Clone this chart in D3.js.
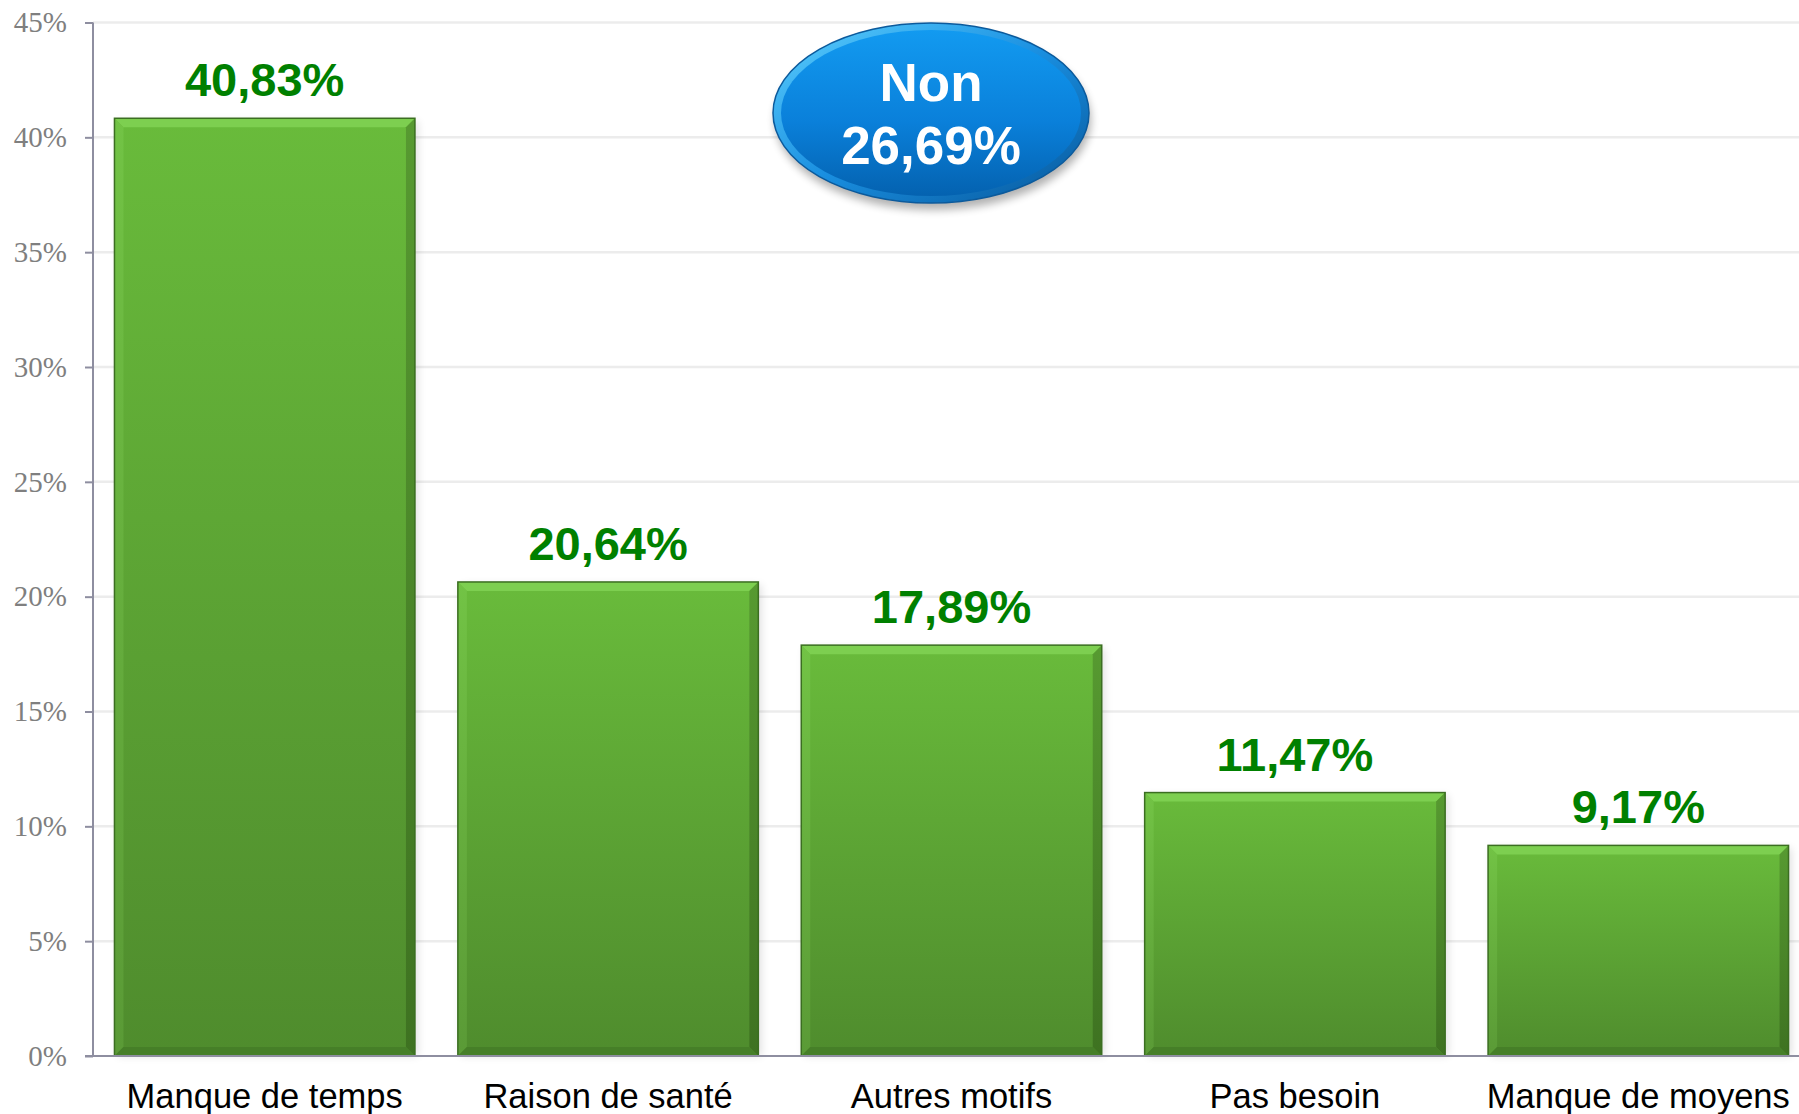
<!DOCTYPE html>
<html>
<head>
<meta charset="utf-8">
<script src="https://cdn.jsdelivr.net/npm/d3@7"></script>
<style>
  html, body { margin: 0; padding: 0; background: #fff; }
  svg { display: block; }
  .y-axis text { font-family: "Liberation Serif", "DejaVu Serif", serif; font-size: 29px; fill: #7f7f7f; }
  .y-axis line, .y-axis path { stroke: #8e8ea0; stroke-width: 2; }
  .cat-label { font-family: "Liberation Sans", Arial, sans-serif; font-size: 34.5px; fill: #000; }
  .val-label { font-family: "Liberation Sans", Arial, sans-serif; font-size: 47px; font-weight: bold; fill: #008000; }
  .badge-text { font-family: "Liberation Sans", Arial, sans-serif; font-size: 53px; font-weight: bold; fill: #fff; }
</style>
</head>
<body>
<svg id="chart" width="1799" height="1114"></svg>
<script>
const categories = ["Manque de temps", "Raison de santé", "Autres motifs", "Pas besoin", "Manque de moyens"];
const values = [40.83, 20.64, 17.89, 11.47, 9.17];
const valueLabels = ["40,83%", "20,64%", "17,89%", "11,47%", "9,17%"];
const yTicks = [0, 5, 10, 15, 20, 25, 30, 35, 40, 45];
const badgeLines = ["Non", "26,69%"];

const W = 1799, H = 1114;
const axisX = 93, baseY = 1056;
const svg = d3.select("#chart");
const defs = svg.append("defs");

const x = d3.scaleBand().domain(categories).range([axisX, 1810]).paddingInner(0.125).paddingOuter(0.0625);
const y = d3.scaleLinear().domain([0, 45]).range([baseY, 22.5]);

// gradients
function linGrad(id, stops, x2 = 0, y2 = 1) {
  const g = defs.append("linearGradient").attr("id", id).attr("x1", 0).attr("y1", 0).attr("x2", x2).attr("y2", y2);
  stops.forEach(([o, c]) => g.append("stop").attr("offset", o).attr("stop-color", c));
}
linGrad("barMain", [[0, "#69bb3b"], [1, "#4f8c2d"]]);
linGrad("barRight", [[0, "#579a31"], [1, "#3e7221"]]);
linGrad("barLeft", [[0, "#72c345"], [1, "#5a9a36"]]);
linGrad("badgeFill", [[0, "#129af0"], [0.55, "#0a80da"], [1, "#0462b0"]]);
linGrad("badgeRim", [[0, "#5cd0ff"], [0.5, "#1a8fe0"], [1, "#06569a"]], 1, 1);

const shadow = defs.append("filter").attr("id", "shadow").attr("x", "-20%").attr("y", "-20%").attr("width", "140%").attr("height", "150%");
shadow.append("feGaussianBlur").attr("stdDeviation", 4);

// gridlines
svg.append("g").selectAll("line").data(yTicks.slice(1)).join("line")
  .attr("x1", axisX).attr("x2", W)
  .attr("y1", d => y(d)).attr("y2", d => y(d))
  .attr("stroke", "#ececec").attr("stroke-width", 2.5);

// bars with bevel
const bev = 9;
const bars = svg.append("g").selectAll("g").data(categories).join("g");
bars.each(function (c, i) {
  const g = d3.select(this);
  const x0 = x(c), x1 = x(c) + x.bandwidth();
  const y0 = y(values[i]), y1 = baseY;
  g.append("rect").attr("x", x0 + 3).attr("y", y0 + 3).attr("width", x1 - x0).attr("height", y1 - y0 - 3)
    .attr("fill", "#000").attr("opacity", 0.12).attr("filter", "url(#shadow)");
  g.append("rect").attr("x", x0).attr("y", y0).attr("width", x1 - x0).attr("height", y1 - y0).attr("fill", "url(#barMain)");
  const poly = (pts, fill) => g.append("polygon").attr("points", pts.map(p => p.join(",")).join(" ")).attr("fill", fill);
  poly([[x0, y0], [x1, y0], [x1 - bev, y0 + bev], [x0 + bev, y0 + bev]], "#7dcf50");
  poly([[x0, y0], [x0 + bev, y0 + bev], [x0 + bev, y1 - bev], [x0, y1]], "url(#barLeft)");
  poly([[x1, y0], [x1, y1], [x1 - bev, y1 - bev], [x1 - bev, y0 + bev]], "url(#barRight)");
  poly([[x0, y1], [x0 + bev, y1 - bev], [x1 - bev, y1 - bev], [x1, y1]], "#467f28");
  g.append("rect").attr("x", x0).attr("y", y0).attr("width", x1 - x0).attr("height", y1 - y0)
    .attr("fill", "none").attr("stroke", "#3b6e21").attr("stroke-width", 1.5);
});

// value labels
svg.append("g").selectAll("text").data(categories).join("text")
  .attr("class", "val-label")
  .attr("x", d => x(d) + x.bandwidth() / 2)
  .attr("y", (d, i) => y(values[i]) - 22)
  .attr("text-anchor", "middle")
  .text((d, i) => valueLabels[i]);

// y axis
const yAxis = svg.append("g").attr("class", "y-axis").attr("transform", `translate(${axisX},0)`)
  .call(d3.axisLeft(y).tickValues(yTicks).tickSize(8).tickPadding(18).tickFormat(d => d + "%").tickSizeOuter(0));
yAxis.select(".domain").attr("d", `M0,${y(45)}V${baseY}`);

// x baseline
svg.append("line").attr("x1", axisX - 8).attr("x2", W).attr("y1", baseY).attr("y2", baseY)
  .attr("stroke", "#8e8ea0").attr("stroke-width", 2);

// category labels
svg.append("g").selectAll("text").data(categories).join("text")
  .attr("class", "cat-label")
  .attr("x", d => x(d) + x.bandwidth() / 2)
  .attr("y", 1108)
  .attr("text-anchor", "middle")
  .text(d => d);

// "Non" badge
const badge = svg.append("g").attr("transform", "translate(931,113)");
badge.append("ellipse").attr("cx", 2).attr("cy", 7).attr("rx", 158).attr("ry", 90)
  .attr("fill", "#000").attr("opacity", 0.3).attr("filter", "url(#shadow)");
badge.append("ellipse").attr("rx", 158).attr("ry", 90).attr("fill", "url(#badgeRim)").attr("stroke", "#0b5a9c").attr("stroke-width", 1.5);
badge.append("ellipse").attr("rx", 150).attr("ry", 83).attr("fill", "url(#badgeFill)");
badge.selectAll("text").data(badgeLines).join("text")
  .attr("class", "badge-text")
  .attr("text-anchor", "middle")
  .attr("y", (d, i) => i === 0 ? -12 : 51)
  .text(d => d);
</script>
</body>
</html>
